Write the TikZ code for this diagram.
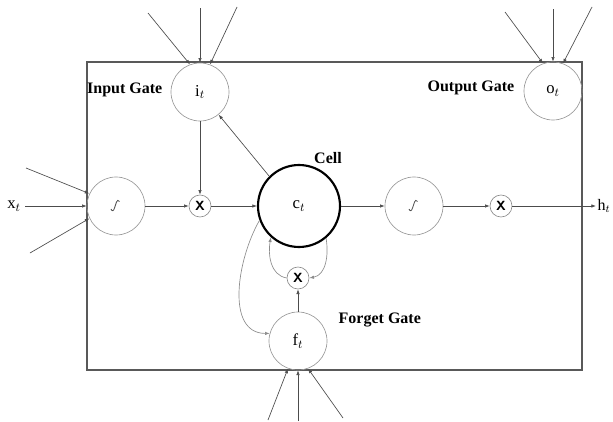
\documentclass[tikz,border=0pt]{standalone}
\usepackage{fontspec}
\setmainfont{Liberation Serif}
\usetikzlibrary{arrows.meta}

\begin{document}
\begin{tikzpicture}[x=0.75pt,y=-0.75pt,
  gate/.style={circle,draw=black!40,line width=0.5pt,minimum size=43.5pt,inner sep=0pt,font=\fontsize{12.5}{14}\selectfont},
  cellnode/.style={circle,draw=black,line width=1.6pt,minimum size=61.5pt,inner sep=0pt,font=\fontsize{12.5}{14}\selectfont},
  mult/.style={circle,draw=black!45,line width=0.5pt,minimum size=16.5pt,inner sep=0pt,font=\sffamily\bfseries\fontsize{10}{12}\selectfont},
  lbl/.style={font=\bfseries\fontsize{12}{14}\selectfont},
  arr/.style={draw=black!70,line width=0.5pt,-{Latex[length=3.5pt,width=2.6pt]}},
  wire/.style={draw=black!45,line width=0.5pt,-{Latex[length=3.5pt,width=2.6pt]}},
  glyph/.style={line width=0.6pt,draw=black!70}]
\useasboundingbox (0,0) rectangle (613,421);
% outer block
\draw[black!65,line width=0.9pt] (87,62) rectangle (582,370);
% gates and cell
\node[gate] (i) at (200,92) {i$_t$};
\node[gate] (o) at (553,91) {o$_t$};
\node[gate] (f) at (298,341) {f$_t$};
\node[gate] (s1) at (116,206) {};
\node[gate] (s2) at (414,206) {};
\node[cellnode] (c) at (299,206) {c$_t$};
\node[mult] (m1) at (200,206) {X};
\node[mult] (m2) at (501,206) {X};
\node[mult] (m3) at (298,278) {X};
\foreach \s in {s1,s2} {
   \draw[glyph,shift={(\s)}] (-5,3) .. controls (-4,5.5) and (-2.5,5.5) .. (-1.5,2)
      -- (0.5,-4) .. controls (1,-6) and (2.5,-6) .. (3.5,-4.5);
}
% labels
\node[lbl,anchor=east] (li) at (167,90) {Input Gate};
\node[lbl,anchor=east] (lo) at (519,88) {Output Gate};
\node[lbl] (lc) at (328,158) {Cell};
\node[lbl,anchor=west] (lf) at (334,320) {Forget Gate};
\node[font=\fontsize{12.5}{14}\selectfont] (xt) at (14,206) {x$_t$};
\node[anchor=west,inner sep=1pt,font=\fontsize{12}{14}\selectfont] (h) at (596,206) {h$_t$};
% incoming arrows
\foreach \n/\x/\y/\a in {1/148/13/110,2/200/8/90,3/237/7/70} {
   \coordinate (it\n) at (\x,\y);
   \draw[arr] (it\n) -- (i.\a);
}
\foreach \n/\x/\y/\a in {1/505/12/110,2/553/9/90,3/592/7/70} {
   \coordinate (ot\n) at (\x,\y);
   \draw[arr] (ot\n) -- (o.\a);
}
\foreach \n/\x/\y/\a in {1/268/420/250,2/298/421/270,3/343/418/290} {
   \coordinate (fb\n) at (\x,\y);
   \draw[arr] (fb\n) -- (f.\a);
}
\coordinate (xa) at (26,168);
\coordinate (xb) at (30,253);
\draw[arr] (xa) -- (s1.155);
\draw[arr] (xt) -- (s1.west);
\draw[arr] (xb) -- (s1.205);
% main path
\draw[arr] (s1) -- (m1);
\draw[arr] (m1) -- (c);
\draw[arr] (c) -- (s2);
\draw[arr] (s2) -- (m2);
\draw[arr] (m2) -- (h.west);
\draw[arr] (i) -- (m1);
\draw[arr] (c.135) -- (i);
% forget loop
\draw[arr] (f) -- (m3);
\draw[wire] (c.-50) to[out=-80,in=10] (m3.east);
\draw[wire] (m3.west) to[out=170,in=-100] (c.228);
\draw[wire] (c.200) to[out=240,in=180] (f.165);
\end{tikzpicture}
\end{document}
